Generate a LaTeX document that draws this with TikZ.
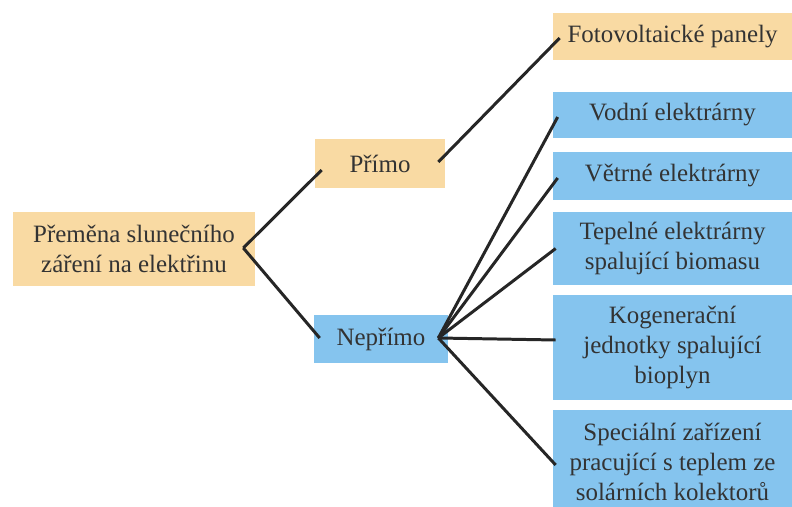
\documentclass[tikz,border=0pt]{standalone}
\usepackage{fontspec}
\setmainfont{Liberation Serif}
\usetikzlibrary{positioning}

\definecolor{sunorange}{HTML}{F9DAA3}
\definecolor{skyblue}{HTML}{85C4EE}

\begin{document}
\begin{tikzpicture}[x = 0.02cm, y = -0.02cm,
                    box/.style      = {rectangle,
                                       draw = none,
                                       inner sep = 0pt,
                                       align = center,
                                       text = black!80,
                                       font = \fontsize{14.2}{17}\selectfont},
                    direct/.style   = {box,
                                       fill = sunorange},
                    indirect/.style = {box,
                                       fill = skyblue,
                                       minimum width = 4.78cm},
                    link/.style     = {line width = 1.7pt,
                                       draw = black!85}]

\useasboundingbox (0,0) rectangle (792,507);
\fill[white] (0,0) rectangle (792,507);
\clip (0,0) rectangle (792,507);

% source and the two ways
\node[direct, minimum width = 4.84cm, minimum height = 1.48cm] (root) at (134,249)
     {Přeměna slunečního\\záření na elektřinu};
\node[direct, minimum width = 2.6cm, minimum height = 0.98cm] (primo) at (380,163.5) {Přímo};
\node[indirect, minimum width = 2.68cm, minimum height = 0.96cm] (neprimo) at (381,339) {Nepřímo};

% technologies
\node[direct, minimum width = 4.78cm, minimum height = 0.94cm] (foto) at (672.5,36.5)
     {Fotovoltaické panely};
\node[indirect, minimum height = 0.92cm] (vodni) at (672.5,115) {Vodní elektrárny};
\node[indirect, minimum height = 0.96cm] (vetrne) at (672.5,176) {Větrné elektrárny};
\node[indirect, minimum height = 1.46cm] (tepelne) at (672.5,248.5)
     {Tepelné elektrárny\\spalující biomasu};
\node[indirect, minimum height = 2.1cm] (kogen) at (672.5,347.5)
     {Kogenerační\\jednotky spalující\\bioplyn};
\node[indirect, minimum height = 2.08cm] (special) at (672.5,462)
     {Speciální zařízení\\pracující s teplem ze\\solárních kolektorů};

% connectors
\coordinate (rootfork) at ([shift={(-12,-1)}]root.east);
\coordinate (primofork) at ([shift={(-7,-1.5)}]primo.east);
\coordinate (neprimofork) at ([shift={(-10,-1)}]neprimo.east);

\path[link] (rootfork) edge ([shift={(7,6.5)}]primo.west);
\path[link] (rootfork) edge ([shift={(6,-1)}]neprimo.west);

\path[link] (primofork) edge ([shift={(7,1.5)}]foto.west);

\path[link] (neprimofork) edge ([shift={(5,2)}]vodni.west);
\path[link] (neprimofork) edge ([shift={(5,2)}]vetrne.west);
\path[link] (neprimofork) edge ([shift={(3,0)}]tepelne.west);
\path[link] (neprimofork) edge ([shift={(3,-7.5)}]kogen.west);
\path[link] (neprimofork) edge ([shift={(3,3)}]special.west);

\end{tikzpicture}
\end{document}
